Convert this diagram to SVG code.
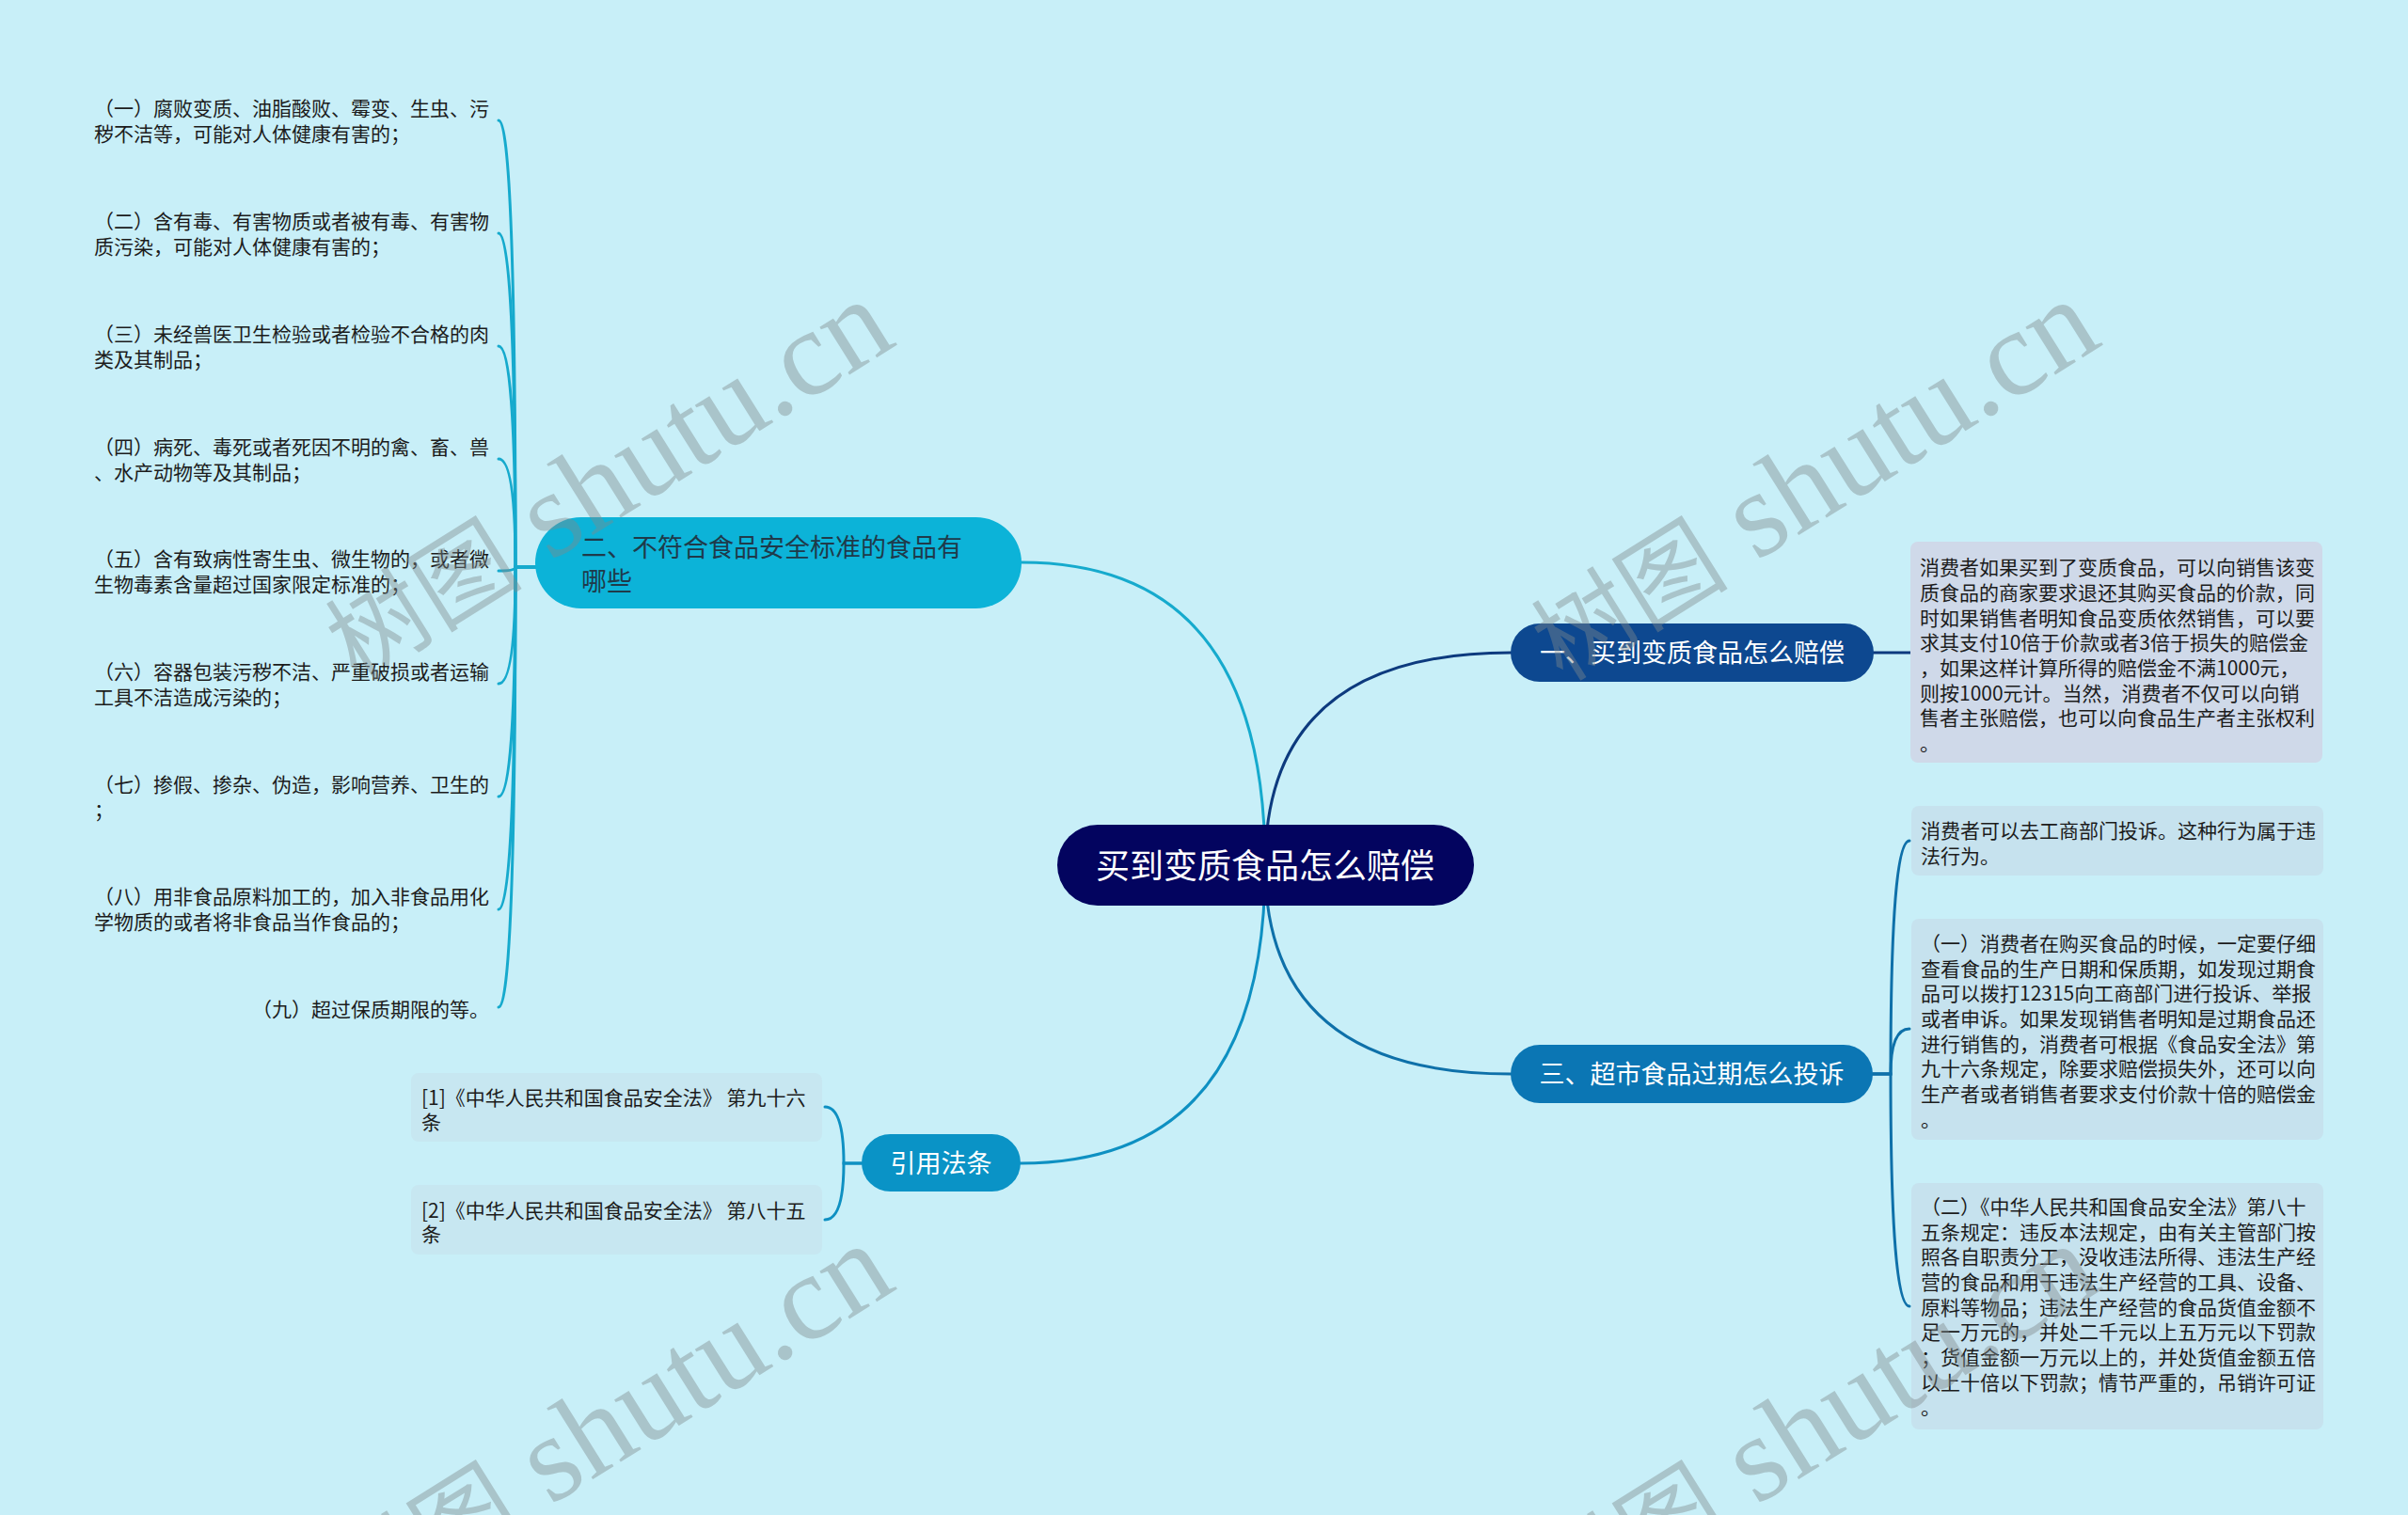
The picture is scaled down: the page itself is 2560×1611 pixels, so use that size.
<svg xmlns="http://www.w3.org/2000/svg" width="2560" height="1611" viewBox="0 0 2560 1611">
<style>
.t{font-family:"Noto Sans CJK SC","Noto Sans",sans-serif}
.leaf{font-size:21px;fill:#1c1c1c}
.br{font-size:27px;fill:#ffffff}
.root{font-size:36px;fill:#ffffff}
.c{fill:none;stroke-width:3;stroke-linecap:round}
.box1{fill:#cfd9e9}
.box3{fill:#c6e2ee}
.boxr{fill:#c7e7f1}
.wm{font-family:"Liberation Serif","Noto Sans CJK SC",serif;fill:#7f8a8c;opacity:.42}
</style>
<rect x="0" y="0" width="2560" height="1611" fill="#c8eff8"/>

<g id="connectors">
  <path class="c" stroke="#16aacd" d="M1086 598 Q1345 598 1345 920"/>
  <path class="c" stroke="#0d3a7e" d="M1606 694 Q1345 694 1345 920"/>
  <path class="c" stroke="#0e70a9" d="M1606 1142 Q1345 1142 1345 920"/>
  <path class="c" stroke="#0e90c2" d="M1085 1237 Q1345 1237 1345 920"/>
  <path class="c" stroke="#0d3a7e" d="M1992 694 L2031 694"/>
  <g stroke="#16aacd">
    <path class="c" d="M569 603 L548 603 Q548 128 530 128"/>
    <path class="c" d="M569 603 L548 603 Q548 248 530 248"/>
    <path class="c" d="M569 603 L548 603 Q548 368 530 368"/>
    <path class="c" d="M569 603 L548 603 Q548 488 530 488"/>
    <path class="c" d="M569 603 L548 603 Q548 607 530 607"/>
    <path class="c" d="M569 603 L548 603 Q548 727 530 727"/>
    <path class="c" d="M569 603 L548 603 Q548 847 530 847"/>
    <path class="c" d="M569 603 L548 603 Q548 967 530 967"/>
    <path class="c" d="M569 603 L548 603 Q548 1071 530 1071"/>
  </g>
  <g stroke="#0e70a9">
    <path class="c" d="M1991 1142 L2010 1142 Q2010 894 2030 894"/>
    <path class="c" d="M1991 1142 L2010 1142 Q2010 1094 2030 1094"/>
    <path class="c" d="M1991 1142 L2010 1142 Q2010 1389 2030 1389"/>
  </g>
  <g stroke="#0e90c2">
    <path class="c" d="M916 1237 L897 1237 Q897 1177 877 1177"/>
    <path class="c" d="M916 1237 L897 1237 Q897 1297 877 1297"/>
  </g>
</g>

<g id="root">
  <rect x="1124" y="877" width="443" height="86" rx="43" fill="#03045f"/>
  <text class="t root" x="1345" y="934" text-anchor="middle">买到变质食品怎么赔偿</text>
</g>

<g id="n1">
  <rect x="1606" y="663" width="386" height="62" rx="31" fill="#0d4890"/>
  <text class="t br" x="1799" y="704" text-anchor="middle">一、买到变质食品怎么赔偿</text>
</g>

<g id="n1-detail">
  <rect class="box1" x="2031" y="576" width="438" height="235" rx="8"/>
  <text class="t leaf">
    <tspan x="2041" y="611">消费者如果买到了变质食品，可以向销售该变</tspan>
    <tspan x="2041" y="638">质食品的商家要求退还其购买食品的价款，同</tspan>
    <tspan x="2041" y="665">时如果销售者明知食品变质依然销售，可以要</tspan>
    <tspan x="2041" y="691">求其支付10倍于价款或者3倍于损失的赔偿金</tspan>
    <tspan x="2041" y="718">，如果这样计算所得的赔偿金不满1000元，</tspan>
    <tspan x="2041" y="745">则按1000元计。当然，消费者不仅可以向销</tspan>
    <tspan x="2041" y="771">售者主张赔偿，也可以向食品生产者主张权利</tspan>
    <tspan x="2041" y="798">。</tspan>
  </text>
</g>

<g id="n2">
  <rect x="569" y="550" width="517" height="97" rx="48.5" fill="#0cb3d8"/>
  <text class="t" font-size="27" fill="#1f3a4a">
    <tspan x="618" y="592">二、不符合食品安全标准的食品有</tspan>
    <tspan x="618" y="628">哪些</tspan>
  </text>
</g>

<g id="n2-items" class="t leaf">
  <g id="n2-1"><text><tspan x="100" y="123">（一）腐败变质、油脂酸败、霉变、生虫、污</tspan><tspan x="100" y="150">秽不洁等，可能对人体健康有害的；</tspan></text></g>
  <g id="n2-2"><text><tspan x="100" y="243">（二）含有毒、有害物质或者被有毒、有害物</tspan><tspan x="100" y="270">质污染，可能对人体健康有害的；</tspan></text></g>
  <g id="n2-3"><text><tspan x="100" y="363">（三）未经兽医卫生检验或者检验不合格的肉</tspan><tspan x="100" y="390">类及其制品；</tspan></text></g>
  <g id="n2-4"><text><tspan x="100" y="483">（四）病死、毒死或者死因不明的禽、畜、兽</tspan><tspan x="100" y="510">、水产动物等及其制品；</tspan></text></g>
  <g id="n2-5"><text><tspan x="100" y="602">（五）含有致病性寄生虫、微生物的，或者微</tspan><tspan x="100" y="629">生物毒素含量超过国家限定标准的；</tspan></text></g>
  <g id="n2-6"><text><tspan x="100" y="722">（六）容器包装污秽不洁、严重破损或者运输</tspan><tspan x="100" y="749">工具不洁造成污染的；</tspan></text></g>
  <g id="n2-7"><text><tspan x="100" y="842">（七）掺假、掺杂、伪造，影响营养、卫生的</tspan><tspan x="100" y="869">；</tspan></text></g>
  <g id="n2-8"><text><tspan x="100" y="961">（八）用非食品原料加工的，加入非食品用化</tspan><tspan x="100" y="988">学物质的或者将非食品当作食品的；</tspan></text></g>
  <g id="n2-9"><text x="520" y="1081" text-anchor="end">（九）超过保质期限的等。</text></g>
</g>

<g id="n3">
  <rect x="1606" y="1111" width="385" height="62" rx="31" fill="#0b76b4"/>
  <text class="t br" x="1798.5" y="1152" text-anchor="middle">三、超市食品过期怎么投诉</text>
</g>

<g id="n3-1">
  <rect class="box3" x="2032" y="857" width="438" height="74" rx="8"/>
  <text class="t leaf"><tspan x="2042" y="891">消费者可以去工商部门投诉。这种行为属于违</tspan><tspan x="2042" y="918">法行为。</tspan></text>
</g>

<g id="n3-2">
  <rect class="box3" x="2032" y="977" width="438" height="235" rx="8"/>
  <text class="t leaf">
    <tspan x="2042" y="1011">（一）消费者在购买食品的时候，一定要仔细</tspan>
    <tspan x="2042" y="1038">查看食品的生产日期和保质期，如发现过期食</tspan>
    <tspan x="2042" y="1064">品可以拨打12315向工商部门进行投诉、举报</tspan>
    <tspan x="2042" y="1091">或者申诉。如果发现销售者明知是过期食品还</tspan>
    <tspan x="2042" y="1118">进行销售的，消费者可根据《食品安全法》第</tspan>
    <tspan x="2042" y="1144">九十六条规定，除要求赔偿损失外，还可以向</tspan>
    <tspan x="2042" y="1171">生产者或者销售者要求支付价款十倍的赔偿金</tspan>
    <tspan x="2042" y="1198">。</tspan>
  </text>
</g>

<g id="n3-3">
  <rect class="box3" x="2032" y="1258" width="438" height="262" rx="8"/>
  <text class="t leaf">
    <tspan x="2042" y="1291">（二）《中华人民共和国食品安全法》第八十</tspan>
    <tspan x="2042" y="1318">五条规定：违反本法规定，由有关主管部门按</tspan>
    <tspan x="2042" y="1344">照各自职责分工，没收违法所得、违法生产经</tspan>
    <tspan x="2042" y="1371">营的食品和用于违法生产经营的工具、设备、</tspan>
    <tspan x="2042" y="1398">原料等物品；违法生产经营的食品货值金额不</tspan>
    <tspan x="2042" y="1424">足一万元的，并处二千元以上五万元以下罚款</tspan>
    <tspan x="2042" y="1451">；货值金额一万元以上的，并处货值金额五倍</tspan>
    <tspan x="2042" y="1478">以上十倍以下罚款；情节严重的，吊销许可证</tspan>
    <tspan x="2042" y="1504">。</tspan>
  </text>
</g>

<g id="n4">
  <rect x="916" y="1206" width="169" height="61" rx="30.5" fill="#0a93c6"/>
  <text class="t br" x="1000.5" y="1247" text-anchor="middle">引用法条</text>
</g>

<g id="n4-1">
  <rect class="boxr" x="437" y="1141" width="437" height="73" rx="8"/>
  <text class="t leaf"><tspan x="448" y="1175">[1]《中华人民共和国食品安全法》 第九十六</tspan><tspan x="448" y="1201">条</tspan></text>
</g>

<g id="n4-2">
  <rect class="boxr" x="437" y="1260" width="437" height="74" rx="8"/>
  <text class="t leaf"><tspan x="448" y="1295">[2]《中华人民共和国食品安全法》 第八十五</tspan><tspan x="448" y="1320">条</tspan></text>
</g>

<g id="watermarks">
  <text class="wm" transform="translate(649 516) rotate(-32)" x="0" y="35" text-anchor="middle"><tspan font-size="105">树图</tspan><tspan font-size="130"> shutu.cn</tspan></text>
  <text class="wm" transform="translate(1931 516) rotate(-32)" x="0" y="35" text-anchor="middle"><tspan font-size="105">树图</tspan><tspan font-size="130"> shutu.cn</tspan></text>
  <text class="wm" transform="translate(649 1520) rotate(-32)" x="0" y="35" text-anchor="middle"><tspan font-size="105">树图</tspan><tspan font-size="130"> shutu.cn</tspan></text>
  <text class="wm" transform="translate(1931 1520) rotate(-32)" x="0" y="35" text-anchor="middle"><tspan font-size="105">树图</tspan><tspan font-size="130"> shutu.cn</tspan></text>
</g>
</svg>
